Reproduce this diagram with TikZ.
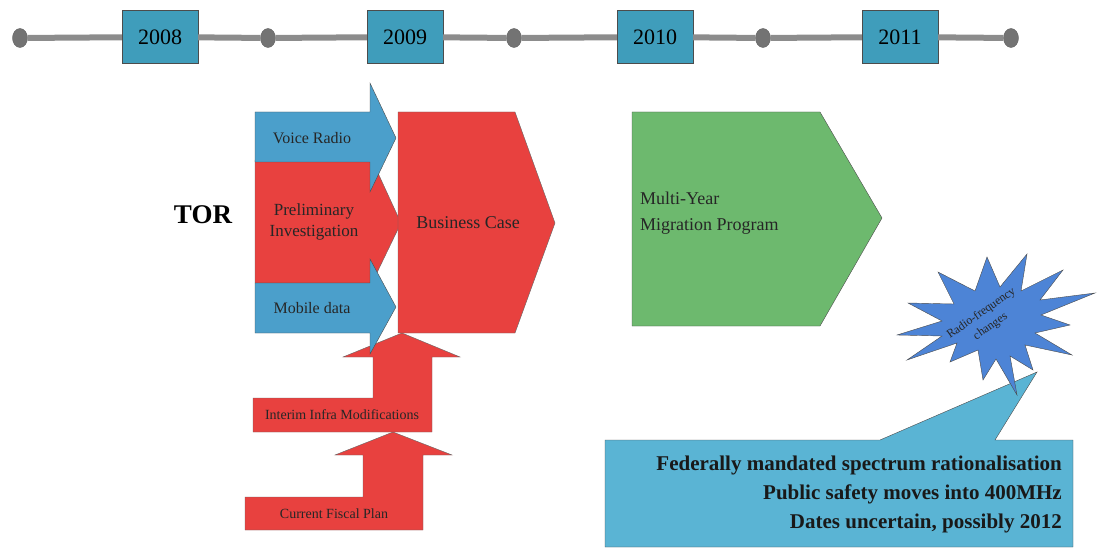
\documentclass[tikz,border=0pt]{standalone}
\usepackage{fontspec}
\setmainfont{Liberation Serif}
\usetikzlibrary{positioning, calc, shapes.geometric}

\definecolor{yearteal}{HTML}{3F9DBB}
\definecolor{streamblue}{HTML}{4B9FCB}
\definecolor{phasered}{HTML}{E8413F}
\definecolor{phasegreen}{HTML}{6DB96E}
\definecolor{burstblue}{HTML}{4D84D6}
\definecolor{calloutblue}{HTML}{5AB4D4}

\begin{document}
\begin{tikzpicture}[
    x=1pt, y=-1pt,
    year/.style={rectangle, draw=black!70, fill=yearteal, minimum width=76pt, minimum height=53pt, inner sep=0pt, font=\fontsize{22}{22}\selectfont},
    tick/.style={ellipse, draw=black!60, fill=black!55, minimum width=15pt, minimum height=19pt, inner sep=0pt},
    timeline/.style={line width=6pt, black!45},
    stream/.style={draw=black!70, fill=streamblue, line join=miter},
    phase/.style={draw=black!60, fill=phasered, line join=miter},
    label/.style={font=\fontsize{16}{18}\selectfont, text=black!85, align=center},
    every node/.style={inner sep=2pt}
]
\useasboundingbox (0,0) rectangle (1097,548);

% =================== TIMELINE ===================
\node[tick] (d0) at (20,38) {};
\node[year] (y2008) at (160,37) {2008};
\node[tick] (d1) at (268,38) {};
\node[year] (y2009) at (405,37) {2009};
\node[tick] (d2) at (514,38) {};
\node[year] (y2010) at (655,37) {2010};
\node[tick] (d3) at (763,38) {};
\node[year] (y2011) at (900,37) {2011};
\node[tick] (d4) at (1011,38) {};

\draw[timeline] (d0) -- (y2008) -- (d1) -- (y2009) -- (d2) -- (y2010) -- (d3) -- (y2011) -- (d4);

% =================== FEEDER ARROWS (bottom up) ===================
\filldraw[phase] (245,530) -- (245,497) -- (363,497) -- (363,455) -- (335,455)
    -- (393,432) -- (452,455) -- (423,455) -- (423,530) -- cycle;
\node[label, font=\fontsize{14}{16}\selectfont] (plan) at (334,514) {Current Fiscal Plan};

\filldraw[phase] (253,432) -- (253,398) -- (373,398) -- (373,357) -- (343,357)
    -- (402,333) -- (460,357) -- (432,357) -- (432,432) -- cycle;
\node[label, font=\fontsize{14}{16}\selectfont] (infra) at (342,415) {Interim Infra Modifications};

% =================== TOR STREAMS ===================
\node[font=\bfseries\fontsize{27}{27}\selectfont] (tor) at (203,215) {TOR};

\filldraw[phase] (255,160) -- (372,160) -- (401,223) -- (372,283) -- (255,283) -- cycle;
\node[label, font=\fontsize{17}{21}\selectfont] (prelim) at (314,222) {Preliminary\\Investigation};

\filldraw[stream] (255,112) -- (370,112) -- (370,83) -- (396,138) -- (370,192)
    -- (370,162) -- (255,162) -- cycle;
\node[label] (voice) at (312,138) {Voice Radio};

\filldraw[stream] (255,283) -- (370,283) -- (370,259) -- (396,307) -- (370,354)
    -- (370,333) -- (255,333) -- cycle;
\node[label] (mobile) at (312,308) {Mobile data};

% =================== BUSINESS CASE ===================
\filldraw[phase] (398,112) -- (515,112) -- (555,223) -- (515,333) -- (398,333) -- cycle;
\node[label, font=\fontsize{18}{20}\selectfont] (bcase) at (468,223) {Business Case};

% =================== MIGRATION ===================
\filldraw[draw=black!70, fill=phasegreen] (632,112) -- (820,112) -- (882,218) -- (820,326) -- (632,326) -- cycle;
\node[label, font=\fontsize{18}{26}\selectfont, align=left, anchor=west] (migration) at (638,213)
    {Multi-Year\\Migration Program};

% =================== SPECTRUM CALLOUT ===================
\filldraw[draw=black!70, fill=calloutblue] (605,440) -- (880,440) -- (1037,372) -- (995,440)
    -- (1073,440) -- (1073,547) -- (605,547) -- cycle;
\node[font=\bfseries\fontsize{21}{29}\selectfont, align=right, anchor=east, text=black!90] (spectrum) at (1064,494)
{
    Federally mandated spectrum rationalisation\\
    Public safety moves into 400MHz\\
    Dates uncertain, possibly 2012
};

\filldraw[draw=black!70, fill=burstblue, line join=miter]
    (987,257) -- (1000,287) -- (1027,254) -- (1021,291) -- (1063,270) -- (1040,300)
    -- (1095,293) -- (1041,315) -- (1070,325) -- (1035,333) -- (1072,355) -- (1025,345)
    -- (1033,370) -- (1010,356) -- (1017,395) -- (996,359) -- (983,380) -- (978,350)
    -- (950,362) -- (957,343) -- (907,360) -- (942,336) -- (897,335) -- (942,321)
    -- (908,303) -- (954,304) -- (938,272) -- (975,291) -- cycle;
\node[label, font=\fontsize{12}{16}\selectfont, rotate=35] (rf) at (986,320) {Radio-frequency\\changes};

\end{tikzpicture}
\end{document}
